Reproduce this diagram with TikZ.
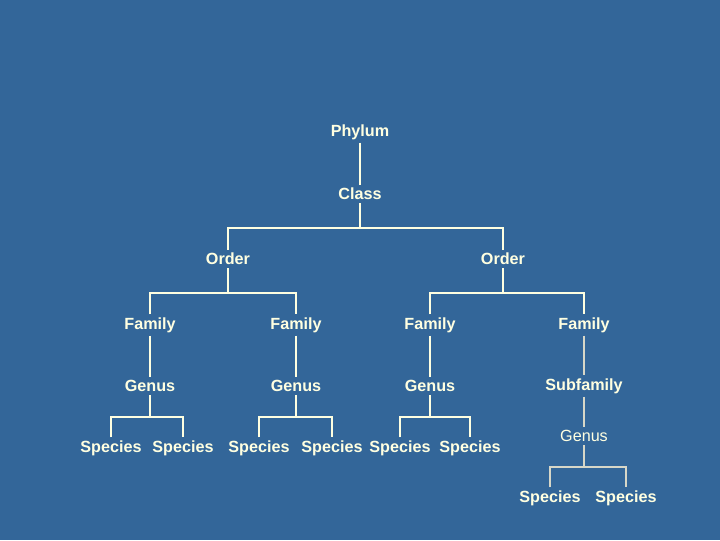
\documentclass[tikz,border=0pt]{standalone}
\usepackage{fontspec}
\setmainfont{Liberation Sans}
\usetikzlibrary{positioning}
\definecolor{slate}{RGB}{51,102,153}
\definecolor{cream}{RGB}{255,255,225}
\definecolor{pale}{RGB}{215,215,200}

\begin{document}
\begin{tikzpicture}[
  x=0.025cm,y=-0.025cm,
  taxon/.style={text=cream,font=\bfseries\fontsize{11.5}{13}\selectfont,inner sep=2pt},
  plain taxon/.style={taxon,font=\fontsize{11.5}{13}\selectfont},
  branch/.style={draw=cream,line width=1.3pt},
  pale branch/.style={draw=pale,line width=1.3pt}
]
  \fill[slate] (0,0) rectangle (720,540);

  % top of the tree
  \node[taxon] (phylum) at (360,132) {Phylum};
  \node[taxon] (class) at (360,194) {Class};
  \node[taxon] (orderA) at (228,259) {Order};
  \node[taxon] (orderB) at (503,259) {Order};

  % families and genera
  \node[taxon] (famA) at (150,325) {Family};
  \node[taxon] (famB) at (296,325) {Family};
  \node[taxon] (famC) at (430,325) {Family};
  \node[taxon] (famD) at (584,325) {Family};
  \node[taxon] (genA) at (150,386) {Genus};
  \node[taxon] (genB) at (296,386) {Genus};
  \node[taxon] (genC) at (430,386) {Genus};
  \node[taxon] (subfam) at (584,386) {Subfamily};
  \node[plain taxon] (genD) at (584,436) {Genus};

  % species
  \node[taxon] (spA1) at (111,448) {Species};
  \node[taxon] (spA2) at (183,448) {Species};
  \node[taxon] (spB1) at (259,448) {Species};
  \node[taxon] (spB2) at (332,448) {Species};
  \node[taxon] (spC1) at (400,448) {Species};
  \node[taxon] (spC2) at (470,448) {Species};
  \node[taxon] (spD1) at (550,498) {Species};
  \node[taxon] (spD2) at (626,498) {Species};

  % junctions
  \coordinate (jclass) at (360,228);
  \coordinate (jorderA) at (228,293);
  \coordinate (jorderB) at (503,293);
  \coordinate (jgenA) at (150,417);
  \coordinate (jgenB) at (296,417);
  \coordinate (jgenC) at (430,417);
  \coordinate (jgenD) at (584,467);

  \draw[branch] (phylum) -- (class);
  \draw[branch] (class) -- (jclass);
  \draw[branch] (orderA.north) |- (jclass) -| (orderB.north);

  \draw[branch] (orderA) -- (jorderA);
  \draw[branch] (famA.north) |- (jorderA) -| (famB.north);
  \draw[branch] (orderB) -- (jorderB);
  \draw[branch] (famC.north) |- (jorderB) -| (famD.north);

  \draw[branch] (famA) -- (genA);
  \draw[branch] (famB) -- (genB);
  \draw[branch] (famC) -- (genC);
  \draw[pale branch] (famD) -- (subfam);
  \draw[pale branch] (subfam) -- (genD);

  \draw[branch] (genA) -- (jgenA);
  \draw[branch] (spA1.north) |- (jgenA) -| (spA2.north);
  \draw[branch] (genB) -- (jgenB);
  \draw[branch] (spB1.north) |- (jgenB) -| (spB2.north);
  \draw[branch] (genC) -- (jgenC);
  \draw[branch] (spC1.north) |- (jgenC) -| (spC2.north);
  \draw[pale branch] (genD) -- (jgenD);
  \draw[pale branch] (spD1.north) |- (jgenD) -| (spD2.north);
\end{tikzpicture}
\end{document}
